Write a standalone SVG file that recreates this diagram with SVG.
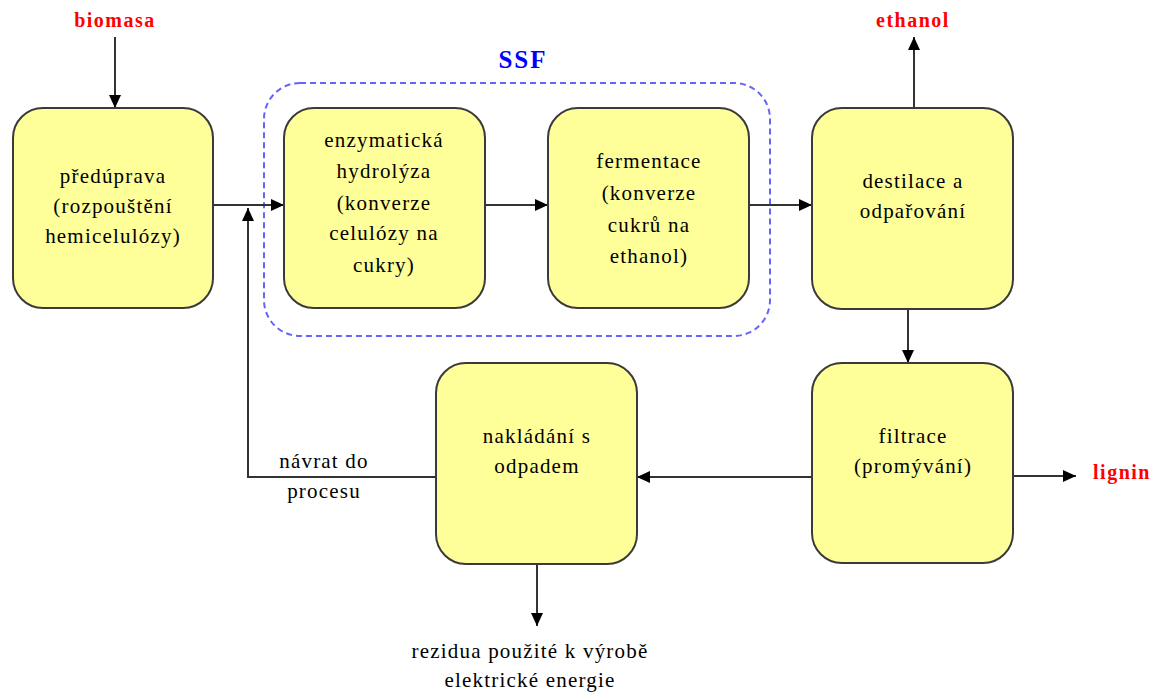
<svg xmlns="http://www.w3.org/2000/svg" width="1159" height="693" viewBox="0 0 1159 693">
<defs>
<marker id="arr" markerUnits="userSpaceOnUse" markerWidth="14" markerHeight="14" viewBox="0 0 14 14" refX="13" refY="7" orient="auto">
<path d="M0,1 L13,7 L0,13 z" fill="#000"/>
</marker>
</defs>
<style>
.box{fill:#FFFF99;stroke:#3a3a3a;stroke-width:2}
.t{font-size:21px;letter-spacing:1.2px;fill:#000;text-anchor:middle}
.lbl{font-size:20px;font-weight:bold;letter-spacing:1.5px;fill:#FF0000;text-anchor:middle}
.ca{fill:none;stroke:#333;stroke-width:2;marker-end:url(#arr)}
</style>
<rect width="1159" height="693" fill="#fff"/>
<g font-family="Liberation Serif, Times New Roman, serif">
<g id="ssf">
<rect x="264" y="83" width="506" height="253" rx="36" fill="none" stroke="#6464FF" stroke-width="2" stroke-dasharray="6,4"/>
<text x="523" y="68" font-size="25" font-weight="bold" letter-spacing="2" fill="#0000FF" text-anchor="middle">SSF</text>
</g>
<g id="connectors">
<path class="ca" d="M115,37 V108"/>
<path class="ca" d="M213,205 H284"/>
<path class="ca" d="M436,477 H248 V208"/>
<path class="ca" d="M485,205 H548"/>
<path class="ca" d="M749,205 H812"/>
<path class="ca" d="M914,108 V37"/>
<path class="ca" d="M908,309 V363"/>
<path class="ca" d="M812,477 H637"/>
<path class="ca" d="M1013,476 H1076"/>
<path class="ca" d="M537,564 V626"/>
</g>
<g id="n-preduprava">
<rect class="box" x="13" y="108" width="200" height="200" rx="30"/>
<text class="t" x="113" y="183">předúprava</text>
<text class="t" x="113" y="213">(rozpouštění</text>
<text class="t" x="113" y="243">hemicelulózy)</text>
</g>
<g id="n-hydrolyza">
<rect class="box" x="284" y="108" width="201" height="200" rx="30"/>
<text class="t" x="384" y="147">enzymatická</text>
<text class="t" x="384" y="178">hydrolýza</text>
<text class="t" x="384" y="210">(konverze</text>
<text class="t" x="384" y="240">celulózy na</text>
<text class="t" x="384" y="272">cukry)</text>
</g>
<g id="n-fermentace">
<rect class="box" x="548" y="108" width="201" height="200" rx="30"/>
<text class="t" x="649" y="168">fermentace</text>
<text class="t" x="649" y="200">(konverze</text>
<text class="t" x="649" y="232">cukrů na</text>
<text class="t" x="649" y="263">ethanol)</text>
</g>
<g id="n-destilace">
<rect class="box" x="812" y="108" width="201" height="201" rx="30"/>
<text class="t" x="913" y="188">destilace a</text>
<text class="t" x="913" y="218">odpařování</text>
</g>
<g id="n-filtrace">
<rect class="box" x="812" y="363" width="201" height="200" rx="30"/>
<text class="t" x="913" y="443">filtrace</text>
<text class="t" x="913" y="473">(promývání)</text>
</g>
<g id="n-odpad">
<rect class="box" x="436" y="363" width="201" height="201" rx="30"/>
<text class="t" x="537" y="443">nakládání s</text>
<text class="t" x="537" y="473">odpadem</text>
</g>
<g id="labels">
<text class="lbl" x="115" y="27">biomasa</text>
<text class="lbl" x="913" y="27">ethanol</text>
<text class="lbl" x="1122" y="479">lignin</text>
<text class="t" x="324" y="468">návrat do</text>
<text class="t" x="324" y="498">procesu</text>
<text class="t" x="530" y="658">rezidua použité k výrobě</text>
<text class="t" x="530" y="687">elektrické energie</text>
</g>
</g>
</svg>
